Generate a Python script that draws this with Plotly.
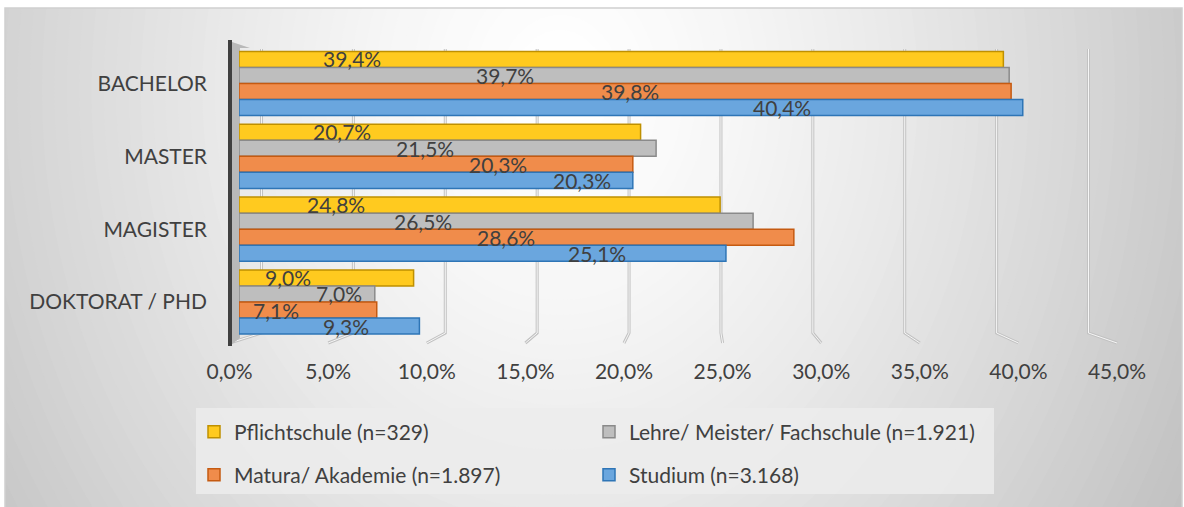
import plotly.graph_objects as go

# ---------------- data ----------------
categories = ["BACHELOR", "MASTER", "MAGISTER", "DOKTORAT / PHD"]
series_names = [
    "Pflichtschule (n=329)",
    "Lehre/ Meister/ Fachschule (n=1.921)",
    "Matura/ Akademie (n=1.897)",
    "Studium (n=3.168)",
]
pflichtschule = [39.4, 20.7, 24.8, 9.0]
lehre = [39.7, 21.5, 26.5, 7.0]
matura = [39.8, 20.3, 28.6, 7.1]
studium = [40.4, 20.3, 25.1, 9.3]
x_ticks = [0, 5, 10, 15, 20, 25, 30, 35, 40, 45]

series_values = [pflichtschule, lehre, matura, studium]

# ---------------- styling ----------------
FONT = "Lato"
TXT = "#404040"
fills = ["#FFCA1F", "#BEBEBE", "#F08C4B", "#6AA6DE"]
edges = ["#BF9000", "#8A8A8A", "#C55A11", "#2E75B6"]

# label placement (x in axis units, as Excel placed them in the 3D chart)
label_x = [
    [5.8, 5.3, 5.0, 2.5],
    [13.7, 9.6, 9.5, 5.15],
    [20.15, 13.35, 13.76, 1.9],
    [28.0, 17.7, 18.45, 5.5],
]

W_FIG, H_FIG = 1184, 507
L, R, T, B = 200, 1130, 40, 350  # plot-area box in px


def xp(px):
    return (px - L) / (R - L)


def yp(py):
    return (B - py) / (B - T)


BAR_X0, BAR_X1 = 239, 1112
BAR_Y0, BAR_Y1 = 44.5, 341
LAB_X0, LAB_X1 = 229.6, 1117
BACK_X0, BACK_X1 = 261.5, 1088.5
BARGAP = 0.12

fig = go.Figure()

# dummy trace so the label axis (x/y) exists
fig.add_trace(go.Scatter(x=[None], y=[None], xaxis="x", yaxis="y",
                         showlegend=False, hoverinfo="skip"))

legend_ids = ["legend", "legend", "legend2", "legend2"]
for i, name in enumerate(series_names):
    fig.add_trace(go.Bar(
        y=categories, x=series_values[i], name=name, orientation="h",
        xaxis="x2", yaxis="y2", legend=legend_ids[i],
        marker=dict(color=fills[i], line=dict(color=edges[i], width=1.5)),
        hoverinfo="x+y",
    ))

# ---------------- data labels ----------------
slot_px = (BAR_Y1 - BAR_Y0) / len(categories) * (1 - BARGAP) / len(series_names)
annotations = []
for i in range(len(series_names)):
    for j, cat in enumerate(categories):
        v = series_values[i][j]
        annotations.append(dict(
            x=label_x[i][j], y=cat, xref="x2", yref="y2",
            text=f"{v:.1f}".replace(".", ",") + "%",
            showarrow=False, xanchor="center", yanchor="middle",
            yshift=(1.5 - i) * slot_px,
            font=dict(family=FONT, size=21, color=TXT),
        ))

# ---------------- background shapes ----------------
shapes = []
FX0, FY0, FX1, FY1 = 5, 8, 1182, 507
CX, CY, AX, BY = 560, 90, 740, 900


def gray(r):
    r = min(max(r, 0), 1)
    g = int(round(255 - 65 * r ** 1.4))
    return f"rgb({g},{g},{g})"


shapes.append(dict(type="rect", xref="paper", yref="paper", layer="below",
                   x0=xp(FX0), x1=xp(FX1), y0=yp(FY1), y1=yp(FY0),
                   fillcolor=gray(1), line=dict(width=0)))
N = 60
for k in range(N, 0, -1):
    r = k / N
    shapes.append(dict(type="circle", xref="paper", yref="paper", layer="below",
                       x0=xp(CX - AX * r), x1=xp(CX + AX * r),
                       y0=yp(CY + BY * r), y1=yp(CY - BY * r),
                       fillcolor=gray(r), line=dict(width=0)))
# white margins outside the frame
for (a, b, c, d) in [(0, 0, W_FIG, FY0), (0, 0, FX0, H_FIG), (FX1, 0, W_FIG, H_FIG)]:
    shapes.append(dict(type="rect", xref="paper", yref="paper", layer="below",
                       x0=xp(a), x1=xp(c), y0=yp(d), y1=yp(b),
                       fillcolor="white", line=dict(width=0)))
shapes.append(dict(type="rect", xref="paper", yref="paper", layer="below",
                   x0=xp(FX0), x1=xp(FX1), y0=yp(FY1 + 2), y1=yp(FY0),
                   fillcolor="rgba(0,0,0,0)", line=dict(color="#D0D0D0", width=1.5)))

# legend panel
shapes.append(dict(type="rect", xref="paper", yref="paper", layer="below",
                   x0=xp(196), x1=xp(994), y0=yp(494), y1=yp(408),
                   fillcolor="rgba(236,236,236,0.85)", line=dict(width=0)))

# 3D gridlines: back wall verticals + floor slants
GRID_TOP, GRID_BOT, FLOOR_FRONT = 49, 333, 343
for v in x_ticks:
    xb = BACK_X0 + (BACK_X1 - BACK_X0) * v / 45
    xf = LAB_X0 + (LAB_X1 - LAB_X0) * v / 45
    path = (f"M{xp(xb)},{yp(GRID_TOP)} L{xp(xb)},{yp(GRID_BOT)} "
            f"L{xp(xf)},{yp(FLOOR_FRONT)}")
    for col, w in [("#C2C2C2", 3), ("#F6F6F6", 1)]:
        shapes.append(dict(type="path", xref="paper", yref="paper", layer="below",
                           path=path, line=dict(color=col, width=w)))

# left wall
shapes.append(dict(type="path", xref="paper", yref="paper", layer="below",
                   path=(f"M{xp(232)},{yp(42)} L{xp(250)},{yp(48)} L{xp(240)},{yp(48)} "
                         f"L{xp(240)},{yp(338)} L{xp(232)},{yp(344)} Z"),
                   fillcolor="#B9B9B9", line=dict(width=0)))
shapes.append(dict(type="line", xref="paper", yref="paper", layer="below",
                   x0=xp(230), x1=xp(230), y0=yp(346), y1=yp(40),
                   line=dict(color="#404040", width=4)))

fig.update_layout(
    width=W_FIG, height=H_FIG,
    margin=dict(l=L, r=W_FIG - R, t=T, b=H_FIG - B, pad=0),
    paper_bgcolor="white", plot_bgcolor="rgba(0,0,0,0)",
    separators=",.",
    font=dict(family=FONT, size=21, color=TXT),
    barmode="group", bargap=BARGAP, bargroupgap=0,
    xaxis=dict(domain=[xp(LAB_X0), xp(LAB_X1)], range=[0, 45], anchor="y",
               tickvals=x_ticks, ticktext=[f"{v:.1f}".replace(".", ",") + "%" for v in x_ticks],
               showgrid=False, zeroline=False, showline=False, ticks="",
               ticklabelstandoff=7, tickfont=dict(family=FONT, size=21, color=TXT),
               fixedrange=True),
    yaxis=dict(domain=[0, 1], range=[0, 1], visible=False, fixedrange=True),
    xaxis2=dict(domain=[xp(BAR_X0), xp(BAR_X1)], range=[0, 45], anchor="y2",
                showgrid=False, zeroline=False, showline=False, showticklabels=False,
                ticks="", fixedrange=True),
    yaxis2=dict(domain=[yp(BAR_Y1), yp(BAR_Y0)], anchor="x2", autorange="reversed",
                type="category", showgrid=False, zeroline=False, showline=False,
                ticks="", ticklabelstandoff=31,
                tickfont=dict(family=FONT, size=21, color=TXT), fixedrange=True),
    legend=dict(orientation="h", x=xp(194), y=yp(432), xanchor="left", yanchor="middle",
                entrywidth=350, entrywidthmode="pixels", bgcolor="rgba(0,0,0,0)",
                font=dict(family=FONT, size=21, color=TXT), traceorder="normal"),
    legend2=dict(orientation="h", x=xp(194), y=yp(475), xanchor="left", yanchor="middle",
                 entrywidth=350, entrywidthmode="pixels", bgcolor="rgba(0,0,0,0)",
                 font=dict(family=FONT, size=21, color=TXT), traceorder="normal"),
    annotations=annotations,
    shapes=shapes,
)

fig.write_html("out.html")
